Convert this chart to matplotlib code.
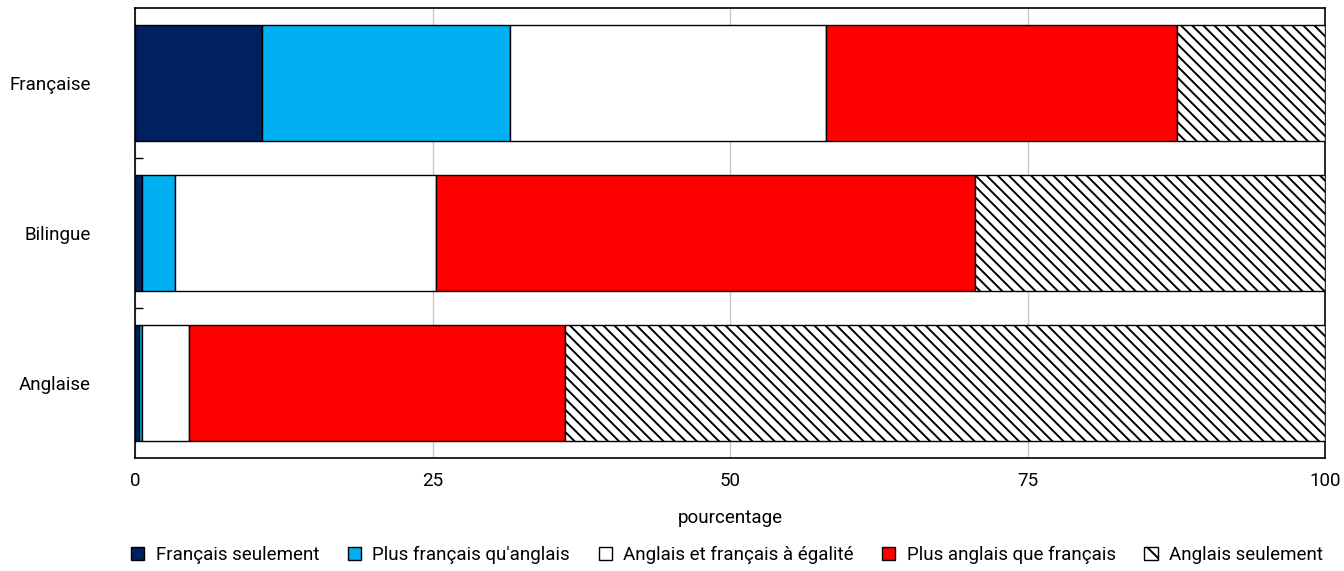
import matplotlib
matplotlib.use("Agg")
import matplotlib.pyplot as plt
from matplotlib.patches import Patch
import numpy as np

plt.rcParams['font.family'] = ['Roboto', 'DejaVu Sans']
plt.rcParams['hatch.linewidth'] = 1.4

categories = ["Française", "Bilingue", "Anglaise"]
series = ["Français seulement", "Plus français qu'anglais", "Anglais et français à égalité",
          "Plus anglais que français", "Anglais seulement"]
francais_seulement = [10.7, 0.6, 0.3]
plus_francais = [20.8, 2.8, 0.25]
egalite = [26.6, 21.9, 3.95]
plus_anglais = [29.5, 45.3, 31.6]
anglais_seulement = [12.4, 29.4, 63.9]
xticks = [0, 25, 50, 75, 100]

values = [francais_seulement, plus_francais, egalite, plus_anglais, anglais_seulement]
colors = ["#002060", "#00B0F0", "#FFFFFF", "#FF0000", "#FFFFFF"]
hatches = [None, None, None, None, "\\\\\\"]

fig = plt.figure(figsize=(13.44, 5.71), dpi=100)
ax = fig.add_axes([135/1344, 1-458/571, 1190/1344, 450/571])

y = np.arange(len(categories))
left = np.zeros(len(categories))
handles = []
for vals, col, h, name in zip(values, colors, hatches, series):
    ax.barh(y, vals, left=left, height=0.77, color=col, edgecolor="black",
            linewidth=1.0, hatch=h, zorder=3)
    left += np.array(vals)
    handles.append(Patch(facecolor=col, edgecolor="black", hatch=("\\" if h else None),
                         linewidth=1.0, label=name))

ax.set_xlim(0, 100)
ax.set_ylim(len(categories)-0.5, -0.5)
ax.set_xticks(xticks)
ax.set_xticklabels([str(t) for t in xticks], fontsize=13.5)
ax.set_yticks(y)
ax.set_yticklabels(categories, fontsize=13.5)
ax.tick_params(axis='y', length=0, pad=32)
ax.set_yticks([0.5, 1.5], minor=True)
ax.tick_params(axis='y', which='minor', direction='in', length=6, width=1)
ax.tick_params(axis='x', length=0, pad=10)
ax.grid(axis='x', color="#c8c8c8", linewidth=1, zorder=0)
for s in ax.spines.values():
    s.set_color("black")
    s.set_linewidth(1.2)
ax.set_xlabel("pourcentage", fontsize=13.5, labelpad=14)

leg = fig.legend(handles=handles, loc="lower left", bbox_to_anchor=(120/1344, -0.008, 1214/1344, 0.07),
                 mode="expand", ncol=5, frameon=False, fontsize=13.5, handlelength=0.7,
                 handleheight=0.7, handletextpad=0.6, borderaxespad=0.2)

fig.savefig("out.png", dpi=100)
